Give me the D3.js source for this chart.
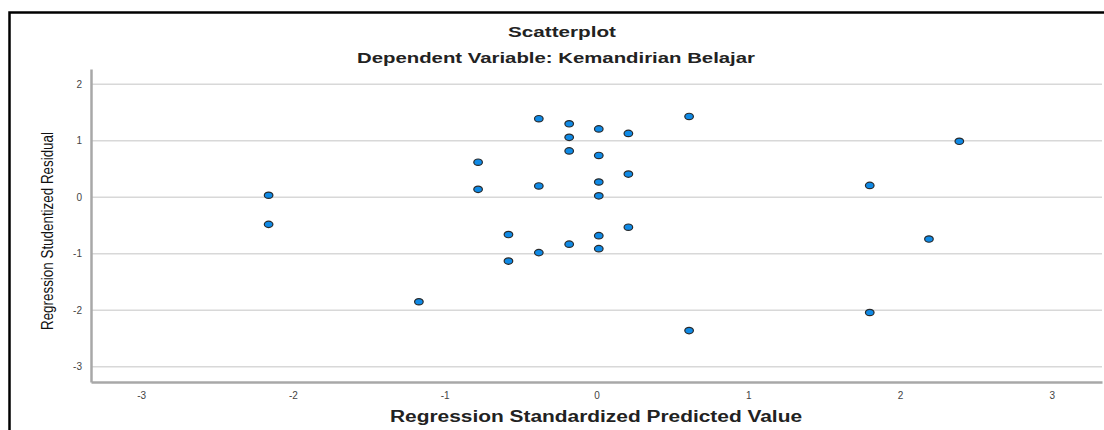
<!DOCTYPE html>
<html>
<head>
<meta charset="utf-8">
<script src="https://cdn.jsdelivr.net/npm/d3@7"></script>
<style>
  body { margin: 0; background: #fff; }
  svg { display: block; }
</style>
</head>
<body>
<div id="chart"></div>
<script>
// ===== DATA =====
const predicted = [
  -2.16, -2.16, -1.17, -0.78, -0.78, -0.58, -0.58,
  -0.38, -0.38, -0.38, -0.18, -0.18, -0.18, -0.18,
  0.015, 0.015, 0.015, 0.015, 0.015, 0.015,
  0.21, 0.21, 0.21, 0.61, 0.61, 1.80, 1.80, 2.19, 2.39
];
const residual = [
  0.035, -0.48, -1.85, 0.62, 0.14, -0.66, -1.13,
  1.39, 0.20, -0.98, 1.30, 1.06, 0.82, -0.83,
  1.21, 0.74, 0.27, 0.025, -0.68, -0.91,
  1.13, 0.41, -0.53, 1.43, -2.36, 0.21, -2.04, -0.74, 0.99
];
const xTicks = [-3, -2, -1, 0, 1, 2, 3];
const yTicks = [-3, -2, -1, 0, 1, 2];

const titleText = "Scatterplot";
const subtitleText = "Dependent Variable: Kemandirian Belajar";
const xLabel = "Regression Standardized Predicted Value";
const yLabel = "Regression Studentized Residual";

// ===== LAYOUT =====
const width = 1104;
const height = 430;
const plotLeft = 91, plotRight = 1102, plotTop = 69, plotBottom = 382;

const svg = d3.select("#chart").append("svg")
  .attr("width", width)
  .attr("height", height);

// outer frame
svg.append("rect")
  .attr("x", 9.5)
  .attr("y", 12.5)
  .attr("width", 1110)
  .attr("height", 440)
  .attr("fill", "none")
  .attr("stroke", "#000")
  .attr("stroke-width", 2.5);

const x = d3.scaleLinear().domain([-3.33, 3.33]).range([plotLeft, plotRight]);
const y = d3.scaleLinear().domain([-3.27, 2.27]).range([plotBottom, plotTop]);

// gridlines (horizontal only)
svg.append("g")
  .selectAll("line")
  .data(yTicks)
  .enter()
  .append("line")
  .attr("x1", plotLeft)
  .attr("x2", plotRight)
  .attr("y1", d => y(d))
  .attr("y2", d => y(d))
  .attr("stroke", "#d8d8d8")
  .attr("stroke-width", 1.5);

// axes (plain hyphen for negatives, like the original)
const fmt = d => String(d);
const yAxis = svg.append("g")
  .attr("transform", `translate(${plotLeft},0)`)
  .call(d3.axisLeft(y).tickValues(yTicks).tickFormat(fmt).tickSize(0).tickSizeOuter(0).tickPadding(9));

const xAxis = svg.append("g")
  .attr("transform", `translate(0,${plotBottom})`)
  .call(d3.axisBottom(x).tickValues(xTicks).tickFormat(fmt).tickSize(0).tickSizeOuter(0).tickPadding(10));

[yAxis, xAxis].forEach(g => {
  g.select(".domain")
    .attr("stroke", "#a8a8a8")
    .attr("stroke-width", 2.5);
  g.selectAll("text")
    .attr("fill", "#444")
    .attr("font-family", "Liberation Sans, Arial, sans-serif")
    .attr("font-size", 10);
});

// points
svg.append("g")
  .selectAll("ellipse")
  .data(predicted.map((p, i) => ({ p, r: residual[i] })))
  .enter()
  .append("ellipse")
  .attr("cx", d => x(d.p))
  .attr("cy", d => y(d.r))
  .attr("rx", 4.3)
  .attr("ry", 3.2)
  .attr("fill", "#0f8ae6")
  .attr("stroke", "#2a2a2a")
  .attr("stroke-width", 1.2);

// titles
svg.append("text")
  .attr("x", 562)
  .attr("y", 37)
  .attr("text-anchor", "middle")
  .attr("font-family", "Liberation Sans, Arial, sans-serif")
  .attr("font-weight", "bold")
  .attr("font-size", 15)
  .attr("fill", "#222")
  .attr("textLength", 108)
  .attr("lengthAdjust", "spacingAndGlyphs")
  .text(titleText);

svg.append("text")
  .attr("x", 556)
  .attr("y", 63)
  .attr("text-anchor", "middle")
  .attr("font-family", "Liberation Sans, Arial, sans-serif")
  .attr("font-weight", "bold")
  .attr("font-size", 15)
  .attr("fill", "#222")
  .attr("textLength", 398)
  .attr("lengthAdjust", "spacingAndGlyphs")
  .text(subtitleText);

svg.append("text")
  .attr("x", 596)
  .attr("y", 422)
  .attr("text-anchor", "middle")
  .attr("font-family", "Liberation Sans, Arial, sans-serif")
  .attr("font-weight", "bold")
  .attr("font-size", 16)
  .attr("fill", "#222")
  .attr("textLength", 412)
  .attr("lengthAdjust", "spacingAndGlyphs")
  .text(xLabel);

svg.append("text")
  .attr("transform", "translate(53,231) rotate(-90)")
  .attr("text-anchor", "middle")
  .attr("font-family", "Liberation Sans Narrow, Arial Narrow, Liberation Sans, sans-serif")
  .attr("font-size", 16)
  .attr("fill", "#111")
  .attr("textLength", 198)
  .attr("lengthAdjust", "spacingAndGlyphs")
  .text(yLabel);
</script>
</body>
</html>
